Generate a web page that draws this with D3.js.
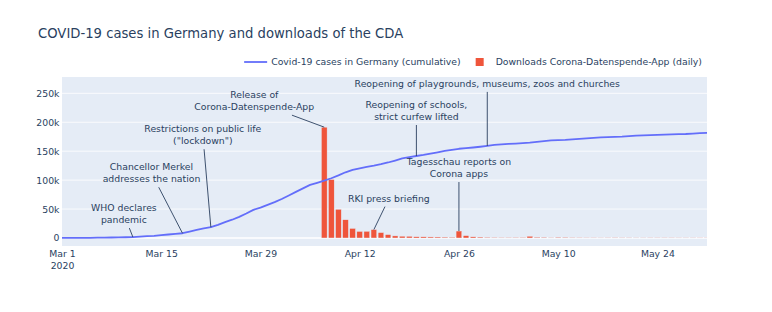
<!DOCTYPE html>
<html>
<head>
<meta charset="utf-8">
<script src="https://cdn.jsdelivr.net/npm/d3@7"></script>
<style>
  body { margin: 0; background: #fff; }
  svg text { font-family: "DejaVu Sans", Verdana, sans-serif; fill: #2a3f5f; }
</style>
</head>
<body>
<script>
// cumulative RKI case counts, one value per day starting Mar 1 2020
const caseStart = '2020-03-01';
const caseValues = [
  117, 150, 188, 240, 349, 534, 684, 847, 1112, 1296,
  1567, 2369, 3062, 3795, 4838, 6012, 7156, 8198, 10999, 13957,
  16662, 18610, 22672, 27436, 31554, 36508, 42288, 48582, 52547, 57298,
  61913, 67366, 73522, 79696, 85778, 91714, 95391, 99225, 103228, 108202,
  113525, 117658, 120479, 123016, 125098, 127584, 130450, 133830, 137439, 139897,
  141672, 143457, 145694, 148046, 150383, 152438, 154175, 155193, 156337, 157641,
  159119, 160758, 161703, 162496, 163175, 163860, 164807, 166091, 167300, 168551,
  169218, 169575, 170508, 171324, 172239, 173152, 173772, 174355, 174697, 175210,
  176007, 176752, 177212, 177850, 178281, 178570, 179002, 179364, 179717, 180458,
  181196, 181482
];

// daily downloads of the app, one value per day starting Apr 7 2020
const downloadStart = '2020-04-07';
const downloadValues = [
  191500, 101000, 49500, 31500, 16500, 11300, 11500, 14500, 9300, 5800,
  3600, 3100, 2900, 2100, 2000, 1800, 1700, 1500, 1300, 12000,
  4000, 2000, 1600, 1200, 900, 700, 700, 800, 900, 3000,
  1400, 1200, 600, 1300, 1100, 700, 600, 500, 500, 400,
  500, 600, 500, 500, 400, 400, 500, 500, 500, 500,
  400, 400, 400, 300, 300
];

const xTicks = ['2020-03-01', '2020-03-15', '2020-03-29', '2020-04-12', '2020-04-26', '2020-05-10', '2020-05-24'];
const yTicks = [0, 50000, 100000, 150000, 200000, 250000];

// annotations: anchor on a series, text offset in px from the anchor point
const notes = [
  {series: 'cases', date: '2020-03-11', lines: ['WHO declares', 'pandemic'], ax: -9, ay: -23},
  {series: 'cases', date: '2020-03-18', lines: ['Chancellor Merkel', 'addresses the nation'], ax: -31, ay: -60},
  {series: 'cases', date: '2020-03-22', lines: ['Restrictions on public life', '("lockdown")'], ax: -8, ay: -92},
  {series: 'downloads', date: '2020-04-07', lines: ['Release of', 'Corona-Datenspende-App'], ax: -70, ay: -26},
  {series: 'downloads', date: '2020-04-14', lines: ['RKI press briefing'], ax: 15, ay: -31},
  {series: 'cases', date: '2020-04-20', lines: ['Reopening of schools,', 'strict curfew lifted'], ax: 0, ay: -45},
  {series: 'cases', date: '2020-04-30', lines: ['Reopening of playgrounds, museums, zoos and churches'], ax: 0, ay: -62},
  {series: 'downloads', date: '2020-04-26', lines: ['Tagesschau reports on', 'Corona apps'], ax: 0, ay: -63}
];

const W = 772, H = 312;
const margin = {top: 77, right: 65, bottom: 66, left: 62};
const width = W - margin.left - margin.right;
const height = H - margin.top - margin.bottom;
const fs = 9.3;

const parse = d3.timeParse('%Y-%m-%d');
const seq = (start, n) => d3.range(n).map(i => d3.timeDay.offset(parse(start), i));
const cases = seq(caseStart, caseValues.length).map((d, i) => ({date: d, val: caseValues[i]}));
const downloads = seq(downloadStart, downloadValues.length).map((d, i) => ({date: d, val: downloadValues[i]}));

const xScale = d3.scaleTime()
  .domain([parse('2020-03-01'), parse('2020-05-31')])
  .range([0, width]);
const yScale = d3.scaleLinear()
  .domain([-13850, 278200])
  .range([height, 0]);
const dayW = xScale(parse('2020-03-02')) - xScale(parse('2020-03-01'));

const svg = d3.select('body').append('svg')
  .attr('width', W)
  .attr('height', H);

svg.append('text')
  .attr('x', 38)
  .attr('y', 38)
  .style('font-size', '13.2px')
  .text('COVID-19 cases in Germany and downloads of the CDA');

const g = svg.append('g')
  .attr('transform', `translate(${margin.left},${margin.top})`);

g.append('rect')
  .attr('width', width)
  .attr('height', height)
  .attr('fill', '#E5ECF6');

g.append('clipPath').attr('id', 'clip')
  .append('rect').attr('width', width).attr('height', height);

// horizontal grid
g.selectAll('.grid')
  .data(yTicks.filter(d => d !== 0))
  .enter().append('line')
    .attr('x1', 0).attr('x2', width)
    .attr('y1', d => yScale(d)).attr('y2', d => yScale(d))
    .style('stroke', '#fff')
    .style('stroke-width', 0.8);

g.append('line')
  .attr('x1', 0).attr('x2', width)
  .attr('y1', yScale(0)).attr('y2', yScale(0))
  .style('stroke', '#fff')
  .style('stroke-width', 1.6);

const plot = g.append('g').attr('clip-path', 'url(#clip)');

plot.selectAll('.bar')
  .data(downloads)
  .enter().append('rect')
    .attr('class', 'bar')
    .attr('x', d => xScale(d.date) - dayW * 0.4)
    .attr('width', dayW * 0.8)
    .attr('y', d => yScale(d.val))
    .attr('height', d => yScale(0) - yScale(d.val))
    .style('fill', '#EF553B')
    .style('stroke', '#E5ECF6')
    .style('stroke-width', 0.4);

plot.append('path')
  .datum(cases)
  .attr('d', d3.line().x(d => xScale(d.date)).y(d => yScale(d.val)))
  .style('fill', 'none')
  .style('stroke', '#636EFA')
  .style('stroke-width', 1.8)
  .style('stroke-linejoin', 'round');

// axes
const xAxis = g.append('g')
  .attr('transform', `translate(0,${height})`)
  .call(d3.axisBottom(xScale)
    .tickValues(xTicks.map(parse))
    .tickFormat(d3.timeFormat('%b %-d'))
    .tickSize(0)
    .tickPadding(4.3));
xAxis.select('.domain').remove();
xAxis.selectAll('text')
  .style('font-size', fs + 'px')
  .attr('fill', null);
xAxis.select('.tick text')
  .append('tspan')
    .attr('x', 0)
    .attr('dy', '1.25em')
    .text('2020');

const yAxis = g.append('g')
  .call(d3.axisLeft(yScale)
    .tickValues(yTicks)
    .tickFormat(d3.format('~s'))
    .tickSize(0)
    .tickPadding(2.5));
yAxis.select('.domain').remove();
yAxis.selectAll('text')
  .style('font-size', fs + 'px')
  .attr('fill', null);

// annotations
const lookup = {cases, downloads};
notes.forEach(n => {
  const pt = lookup[n.series].find(d => +d.date === +parse(n.date));
  const px = xScale(pt.date), py = yScale(pt.val);
  const cx = px + n.ax, cy = py + n.ay;
  const lh = 12;
  const t = g.append('text')
    .attr('text-anchor', 'middle')
    .style('font-size', fs + 'px');
  n.lines.forEach((s, i) => {
    t.append('tspan')
      .attr('x', cx)
      .attr('y', cy + (i - (n.lines.length - 1) / 2) * lh + fs * 0.35)
      .text(s);
  });
  const bb = t.node().getBBox();
  const hw = bb.width / 2 + 2, hh = n.lines.length * lh / 2 + 2;
  // clip the arrow at the text box edge
  const dx = px - cx, dy = py - cy;
  const k = Math.min(dx ? hw / Math.abs(dx) : Infinity, dy ? hh / Math.abs(dy) : Infinity);
  g.append('line')
    .attr('x1', cx + dx * k).attr('y1', cy + dy * k)
    .attr('x2', px).attr('y2', py)
    .style('stroke', '#2a3f5f')
    .style('stroke-width', 0.9);
});

// legend, right aligned above the plot
const legend = svg.append('g');
const legY = 62;
const item2 = legend.append('text')
  .attr('y', legY + fs * 0.35)
  .style('font-size', fs + 'px')
  .text('Downloads Corona-Datenspende-App (daily)');
const item1 = legend.append('text')
  .attr('y', legY + fs * 0.35)
  .style('font-size', fs + 'px')
  .text('Covid-19 cases in Germany (cumulative)');
const w2 = item2.node().getComputedTextLength();
const w1 = item1.node().getComputedTextLength();
const x2 = 702 - w2;
item2.attr('x', x2);
legend.append('rect')
  .attr('x', x2 - 20).attr('y', legY - 4)
  .attr('width', 8).attr('height', 8)
  .style('fill', '#EF553B');
const x1 = x2 - 20 - 15 - w1;
item1.attr('x', x1);
legend.append('line')
  .attr('x1', x1 - 27).attr('x2', x1 - 4)
  .attr('y1', legY).attr('y2', legY)
  .style('stroke', '#636EFA')
  .style('stroke-width', 1.8);
</script>
</body>
</html>
